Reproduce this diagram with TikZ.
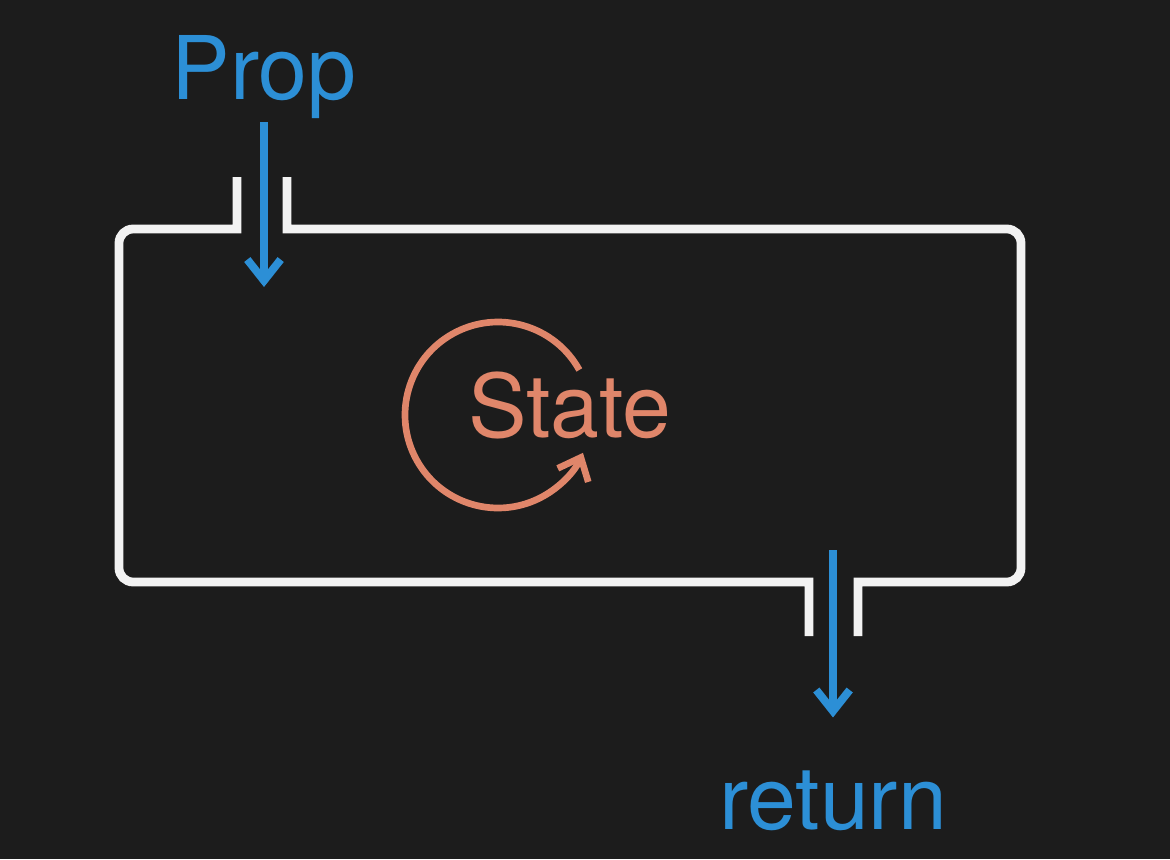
\documentclass[tikz,border=0pt]{standalone}
\usepackage{fontspec}
\setmainfont{TeX Gyre Heros}
\usepackage{tikz}
\usetikzlibrary{positioning,arrows.meta,calc}
\definecolor{cfondo}{HTML}{1C1C1C}
\definecolor{cazul}{HTML}{2C8FD6}
\definecolor{csalmon}{HTML}{E0866A}
\definecolor{cblanco}{HTML}{F2F2F2}
\tikzset{
  marco/.style={draw=cblanco, line width=5pt, line join=miter},
  flecha/.style={-{Straight Barb[length=12pt, width=19pt]}, line width=4.5pt, draw=cazul},
  ciclo/.style={-{Straight Barb[length=11pt, width=19pt]}, line width=3.8pt, draw=csalmon},
  etq/.style={font=\fontsize{50}{60}\selectfont, inner sep=2pt},
}

\begin{document}
\begin{tikzpicture}[x=0.02cm, y=-0.02cm]
  \fill[cfondo] (0,0) rectangle (1170,859);
  \node[etq, text=cazul, anchor=base] (prop) at (264,99) {Prop};
  \node[etq, text=cazul, anchor=base] (ret) at (833,829) {return};
  \node[etq, text=csalmon, anchor=base] (state) at (570,437) {State};
  \coordinate (propfin) at (264,287);
  \coordinate (retini) at (833,550);
  \coordinate (giro) at (498,415);
  \draw[marco] (237,177) -- (237,229) [rounded corners=8pt] -- (119,229) -- (119,582) [sharp corners] -- (809,582) -- (809,636);
  \draw[marco] (858,636) -- (858,582) [rounded corners=8pt] -- (1021,582) -- (1021,229) [sharp corners] -- (287,229) -- (287,177);
  \draw[flecha] (prop) -- (propfin);
  \draw[flecha, shorten >=0.98cm] (retini) -- (ret.north);
  \draw[ciclo] ($(giro)+(29:1.86cm)$) arc[start angle=29, end angle=336, radius=1.86cm];
\end{tikzpicture}
\end{document}
